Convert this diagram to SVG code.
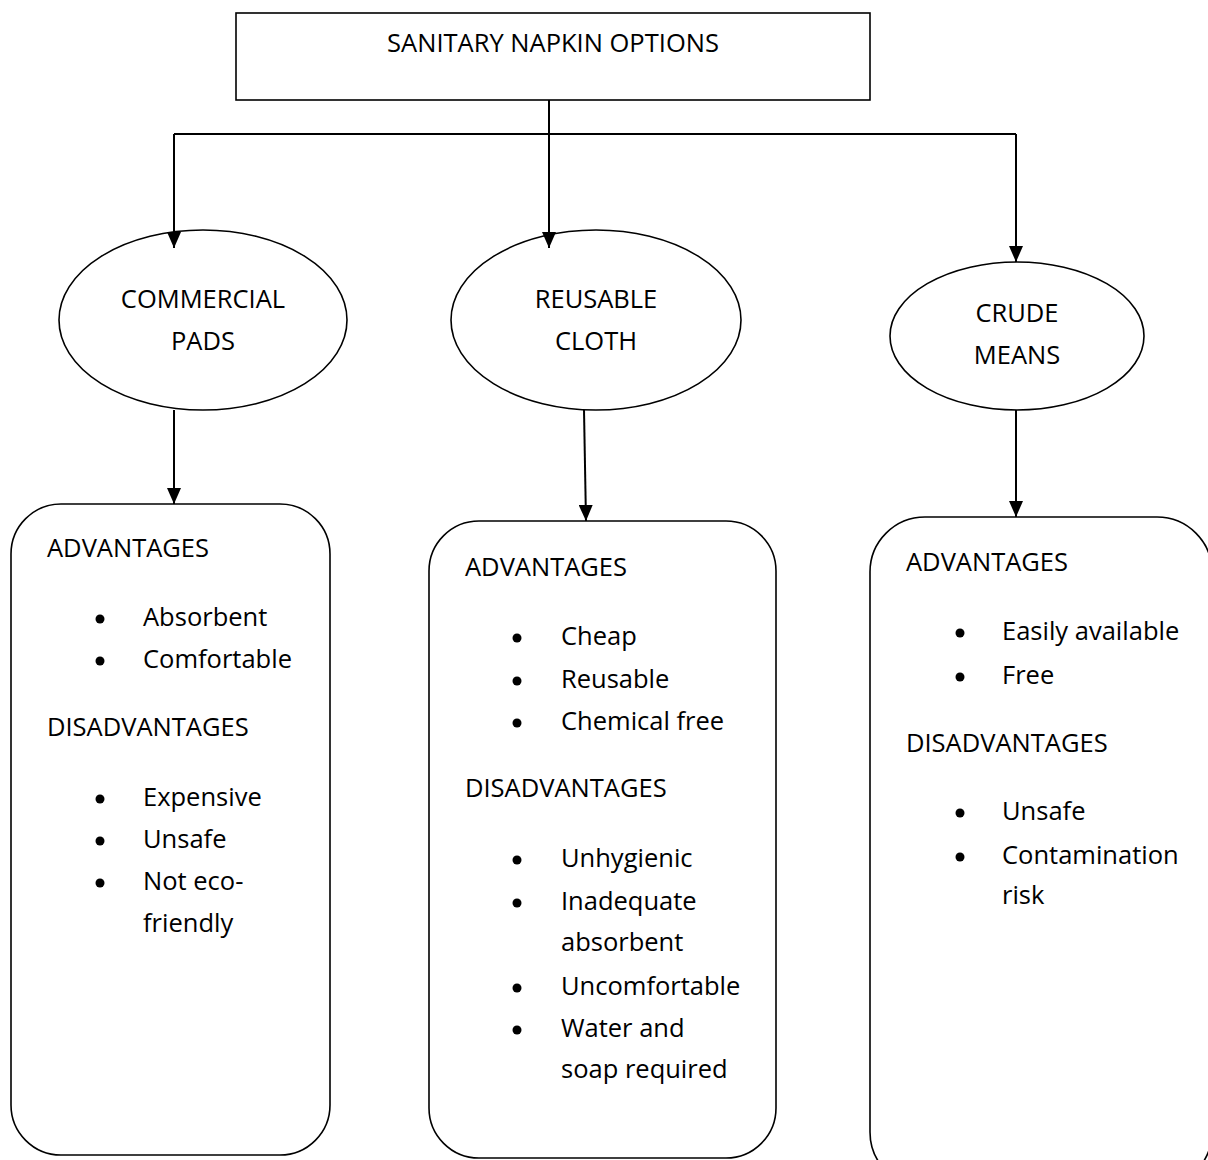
<svg xmlns="http://www.w3.org/2000/svg" width="1208" height="1160" viewBox="0 0 1208 1160">
<style>
text{font-family:"Open Sans","Liberation Sans",sans-serif;font-size:25.5px;fill:#000}
.t{text-anchor:middle}
.shape{fill:#fff;stroke:#000;stroke-width:1.6}
.con{fill:none;stroke:#000;stroke-width:2}
.b{fill:#000}
</style>
<defs>
<marker id="arr" markerUnits="userSpaceOnUse" markerWidth="16" markerHeight="14" refX="16" refY="7" orient="auto" viewBox="0 0 16 14">
<path d="M0,0 L16,7 L0,14 Z" fill="#000"/>
</marker>
</defs>
<rect width="1208" height="1160" fill="#fff"/>
<g id="root">
<rect class="shape" x="236" y="13" width="634" height="87"/>
<text class="t" x="553" y="52">SANITARY NAPKIN OPTIONS</text>
</g>
<g id="commercial">
<ellipse class="shape" cx="203" cy="320" rx="144" ry="90"/>
<text class="t" x="203" y="308">COMMERCIAL</text>
<text class="t" x="203" y="350">PADS</text>
</g>
<g id="reusable">
<ellipse class="shape" cx="596" cy="320" rx="145" ry="90"/>
<text class="t" x="596" y="308">REUSABLE</text>
<text class="t" x="596" y="350">CLOTH</text>
</g>
<g id="crude">
<ellipse class="shape" cx="1017" cy="336" rx="127" ry="74"/>
<text class="t" x="1017" y="322">CRUDE</text>
<text class="t" x="1017" y="364">MEANS</text>
</g>
<g id="commercial-details">
<rect class="shape" x="11" y="504" width="319" height="651" rx="50" ry="50"/>
<text x="47" y="557">ADVANTAGES</text>
<circle class="b" cx="100" cy="619" r="4.5"/><text x="143" y="626">Absorbent</text>
<circle class="b" cx="100" cy="661" r="4.5"/><text x="143" y="668">Comfortable</text>
<text x="47" y="736">DISADVANTAGES</text>
<circle class="b" cx="100" cy="799" r="4.5"/><text x="143" y="806">Expensive</text>
<circle class="b" cx="100" cy="841" r="4.5"/><text x="143" y="848">Unsafe</text>
<circle class="b" cx="100" cy="883" r="4.5"/><text x="143" y="890">Not eco-</text>
<text x="143" y="932">friendly</text>
</g>
<g id="reusable-details">
<rect class="shape" x="429" y="521" width="347" height="637" rx="50" ry="50"/>
<text x="465" y="576">ADVANTAGES</text>
<circle class="b" cx="517" cy="638" r="4.5"/><text x="561" y="645">Cheap</text>
<circle class="b" cx="517" cy="681" r="4.5"/><text x="561" y="688">Reusable</text>
<circle class="b" cx="517" cy="723" r="4.5"/><text x="561" y="730">Chemical free</text>
<text x="465" y="797">DISADVANTAGES</text>
<circle class="b" cx="517" cy="860" r="4.5"/><text x="561" y="867">Unhygienic</text>
<circle class="b" cx="517" cy="903" r="4.5"/><text x="561" y="910">Inadequate</text>
<text x="561" y="951">absorbent</text>
<circle class="b" cx="517" cy="988" r="4.5"/><text x="561" y="995">Uncomfortable</text>
<circle class="b" cx="517" cy="1030" r="4.5"/><text x="561" y="1037">Water and</text>
<text x="561" y="1078">soap required</text>
</g>
<g id="crude-details">
<rect class="shape" x="870" y="517" width="342" height="670" rx="55" ry="55"/>
<text x="906" y="571">ADVANTAGES</text>
<circle class="b" cx="960" cy="633" r="4.5"/><text x="1002" y="640">Easily available</text>
<circle class="b" cx="960" cy="677" r="4.5"/><text x="1002" y="684">Free</text>
<text x="906" y="752">DISADVANTAGES</text>
<circle class="b" cx="960" cy="813" r="4.5"/><text x="1002" y="820">Unsafe</text>
<circle class="b" cx="960" cy="857" r="4.5"/><text x="1002" y="864">Contamination</text>
<text x="1002" y="904">risk</text>
</g>
<g id="connectors">
<path class="con" d="M549,100 V134"/>
<path class="con" d="M174,134 H1016"/>
<path class="con" d="M174,134 V248" marker-end="url(#arr)"/>
<path class="con" d="M549,134 V248" marker-end="url(#arr)"/>
<path class="con" d="M1016,134 V262" marker-end="url(#arr)"/>
<path class="con" d="M174,410 V504" marker-end="url(#arr)"/>
<path class="con" d="M584,410 L586,521" marker-end="url(#arr)"/>
<path class="con" d="M1016,410 V517" marker-end="url(#arr)"/>
</g>
</svg>
